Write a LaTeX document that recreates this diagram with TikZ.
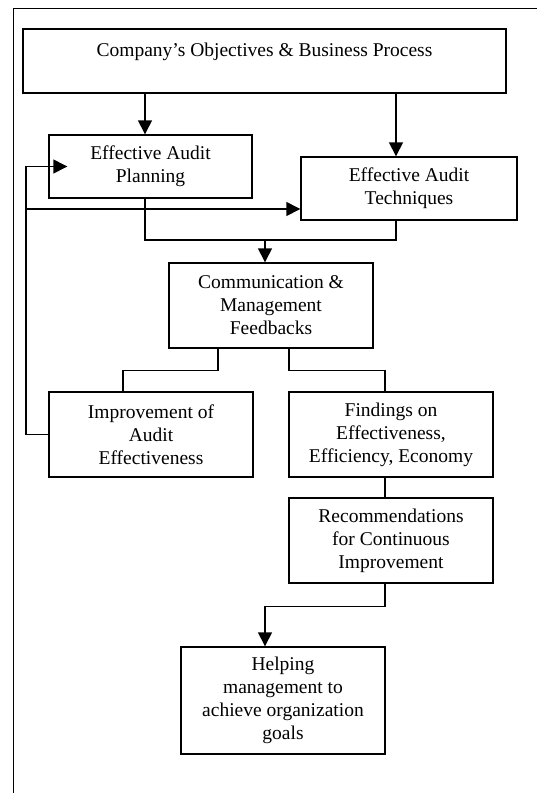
\documentclass[tikz,border=0pt]{standalone}
\usepackage{fontspec}
\setmainfont{Liberation Serif}
\usetikzlibrary{arrows.meta}
\begin{document}
\begin{tikzpicture}[x=1pt,y=-1pt,
  box/.style={draw, line width=1.4pt, minimum width=204pt, minimum height=85pt, align=center, inner sep=2pt,
    font=\fontsize{19.5}{23}\selectfont},
  link/.style={line width=1.4pt},
  arr/.style={line width=1.4pt, -{Triangle[width=14pt,length=14pt]}}]
\useasboundingbox (0,0) rectangle (537,793);
\draw[line width=1pt] (537,8) -- (13,8) -- (13,793);
\node[box, minimum width=483pt, minimum height=64pt] (goals) at (264.5,61) {Company’s Objectives \& Business Process\\~};
\node[box, minimum width=203pt, minimum height=63pt] (plan) at (150.5,166.5) {Effective Audit\\Planning};
\node[box, minimum width=216pt, minimum height=63pt] (tech) at (409,188.5) {Effective Audit\\Techniques};
\node[box] (comm) at (271,305.5) {Communication \&\\Management\\Feedbacks};
\node[box] (impr) at (151,434.5) {Improvement of\\Audit\\Effectiveness};
\node[box] (find) at (391,434.5) {Findings on\\Effectiveness,\\Efficiency, Economy};
\node[box] (reco) at (391,540.5) {Recommendations\\for Continuous\\Improvement};
\node[box, minimum height=107pt] (help) at (283,700.5) {Helping\\management to\\achieve organization\\goals};
\coordinate (loop) at (26,0);
\coordinate (join) at (265,240);
\draw[arr] ([xshift=-5.5pt]plan.north |- goals.south) -- ([xshift=-5.5pt]plan.north);
\draw[arr] ([xshift=-13pt]tech.north |- goals.south) -- ([xshift=-13pt]tech.north);
\draw[arr] (impr.west) -- (impr.west -| loop) -- (loop |- plan.west) -- ([xshift=19pt]plan.west);
\draw[arr] ([yshift=-20.5pt]tech.west -| loop) -- ([yshift=-20.5pt]tech.west);
\draw[link] ([xshift=-5.5pt]plan.south) |- (join) -| ([xshift=-13pt]tech.south);
\draw[arr] (join) -- (join |- comm.north);
\draw[link] ([xshift=-53pt]comm.south) -- ++(0,22) -| ([xshift=-28pt]impr.north);
\draw[link] ([xshift=18pt]comm.south) -- ++(0,22) -| ([xshift=-6pt]find.north);
\draw[link] ([xshift=-6pt]find.south) -- ([xshift=-6pt]reco.north);
\draw[arr] ([xshift=-6pt]reco.south) -- ++(0,23) -| ([xshift=-18pt]help.north);
\end{tikzpicture}
\end{document}
